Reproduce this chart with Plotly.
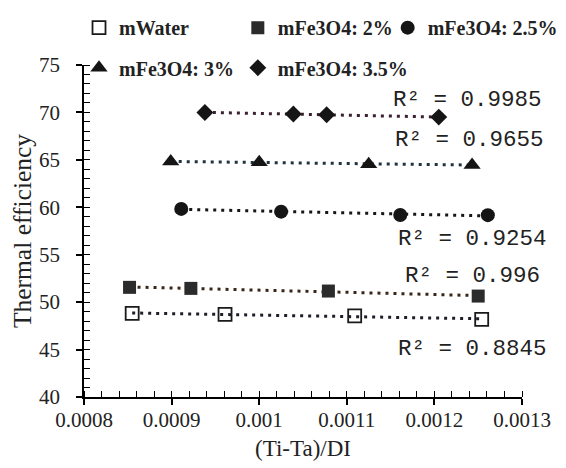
import numpy as np
import plotly.graph_objects as go

# ---- data ----
series_names = ["mWater", "mFe3O4: 2%", "mFe3O4: 2.5%", "mFe3O4: 3%", "mFe3O4: 3.5%"]

x_water = [0.000855, 0.000961, 0.001109, 0.001254]
y_water = [48.81, 48.71, 48.56, 48.18]

x_fe20 = [0.000852, 0.000922, 0.001079, 0.001250]
y_fe20 = [51.56, 51.45, 51.17, 50.64]

x_fe25 = [0.000911, 0.001025, 0.001161, 0.001261]
y_fe25 = [59.83, 59.54, 59.19, 59.17]

x_fe30 = [0.000899, 0.001000, 0.001125, 0.001243]
y_fe30 = [64.82, 64.76, 64.55, 64.47]

x_fe35 = [0.000938, 0.001039, 0.001077, 0.001205]
y_fe35 = [70.00, 69.83, 69.75, 69.51]

r2_labels = ["R\u00b2 = 0.8845", "R\u00b2 = 0.996", "R\u00b2 = 0.9254", "R\u00b2 = 0.9655", "R\u00b2 = 0.9985"]

x_tickvals = [0.0008, 0.0009, 0.001, 0.0011, 0.0012, 0.0013]
x_ticktext = ["0.0008", "0.0009", "0.001", "0.0011", "0.0012", "0.0013"]
y_tickvals = [40, 45, 50, 55, 60, 65, 70, 75]

x_title = "(Ti-Ta)/DI"
y_title = "Thermal efficiency"

# ---- styles ----
xs = [x_water, x_fe20, x_fe25, x_fe30, x_fe35]
ys = [y_water, y_fe20, y_fe25, y_fe30, y_fe35]
symbols = ["square-open", "square", "circle", "triangle-up", "diamond"]
sizes = [13, 13, 14, 15, 13]
mcolors = ["#1a1a1a", "#2b2b2b", "#151515", "#151515", "#151515"]
lcolors = ["#1c1f2a", "#3a2518", "#161616", "#1d3340", "#3a1f30"]
legend_ids = ["legend", "legend2", "legend3", "legend4", "legend5"]

# page geometry (the page body has an 8px margin)
OFF = 8
W, H = 566, 468
plot_left, plot_right, plot_top, plot_bottom = 84, 522.5, 65.3, 396.7
ml = plot_left - OFF
mt = plot_top - OFF
mr = W - (plot_right - OFF)
mb = H - (plot_bottom - OFF)
pw = plot_right - plot_left
ph = plot_bottom - plot_top

def px_x(p):
    return (p - plot_left) / pw

def px_y(p):
    return (plot_bottom - p) / ph

# legend entry placement (page pixels: text start, row centre)
legend_text_x = [119, 278, 428, 119, 278]
legend_row_y = [28, 28, 28, 68, 68]

# annotation placement (page pixels)
r2_right_px = [550, 543, 550, 547, 545]
r2_center_py = [349, 276, 239, 140, 100]

serif = "Liberation Serif, Times New Roman, serif"
mono = "Liberation Mono, Courier New, monospace"

fig = go.Figure()

# trendlines (linear fits)
for i in range(5):
    xa = np.array(xs[i]); ya = np.array(ys[i])
    k, b = np.polyfit(xa, ya, 1)
    xl = np.array([xa.min(), xa.max()])
    fig.add_trace(go.Scatter(
        x=xl, y=k * xl + b, mode="lines", showlegend=False, hoverinfo="skip",
        line=dict(color=lcolors[i], width=3, dash="3px,5px"),
    ))

# data markers
for i in range(5):
    mk = dict(symbol=symbols[i], size=sizes[i], color=mcolors[i])
    if symbols[i] == "square-open":
        mk["line"] = dict(color=mcolors[i], width=1.8)
    else:
        mk["line"] = dict(width=0)
    fig.add_trace(go.Scatter(
        x=xs[i], y=ys[i], mode="markers", name=series_names[i],
        marker=mk, legend=legend_ids[i],
    ))

# R² labels
for i in range(5):
    fig.add_annotation(
        xref="paper", yref="paper",
        x=px_x(r2_right_px[i]), y=px_y(r2_center_py[i]),
        xanchor="right", yanchor="middle", showarrow=False,
        text=r2_labels[i], font=dict(family=mono, size=22.5, color="#222"),
    )

axis_common = dict(
    showline=True, linecolor="black", linewidth=1.5, showgrid=False, zeroline=False,
    ticks="outside", ticklen=6, tickwidth=1.5, tickcolor="black",
    tickfont=dict(family=serif, size=21, color="#222"),
)

fig.update_xaxes(
    range=[0.0008, 0.0013], tickvals=x_tickvals, ticktext=x_ticktext,
    title_text=x_title, title_standoff=9, ticklabelstandoff=-3,
    title_font=dict(family=serif, size=23, color="#222"),
    minor=dict(ticks="inside", dtick=0.00002, tick0=0.0008, ticklen=6, tickwidth=1.2, tickcolor="black"),
    **axis_common,
)
fig.update_yaxes(
    range=[40, 75], tickvals=y_tickvals,
    title_text=y_title, title_standoff=0, ticklabelstandoff=12,
    title_font=dict(family=serif, size=25.5, color="#222"),
    minor=dict(ticks="inside", dtick=1, tick0=40, ticklen=6, tickwidth=1.2, tickcolor="black"),
    **axis_common,
)

legend_font = dict(family=serif, size=20, color="#222", weight="bold")
legend_layout = {}
for i, lid in enumerate(legend_ids):
    legend_layout[lid] = dict(
        orientation="h", xanchor="left", yanchor="middle",
        x=px_x(legend_text_x[i] - 40), y=px_y(legend_row_y[i]),
        font=legend_font, itemwidth=30, bgcolor="rgba(0,0,0,0)",
    )

fig.update_layout(
    width=W, height=H,
    margin=dict(l=ml, r=mr, t=mt, b=mb, autoexpand=False),
    paper_bgcolor="white", plot_bgcolor="white",
    showlegend=True,
    **legend_layout,
)

fig.write_html("out.html")
